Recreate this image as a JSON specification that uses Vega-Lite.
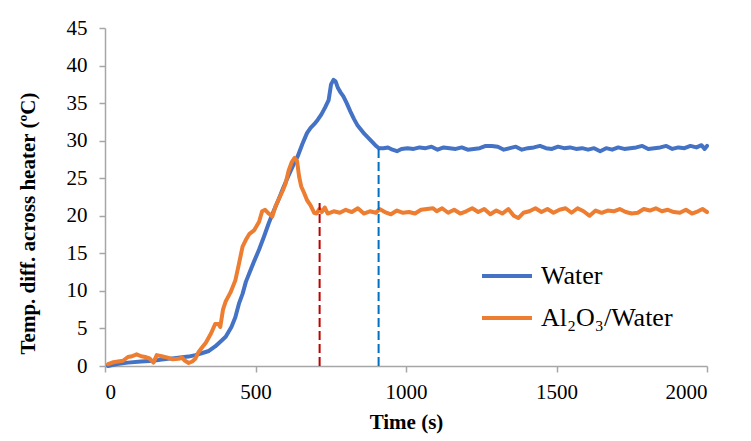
{
  "$schema": "https://vega.github.io/schema/vega-lite/v6.json",
  "width": 602,
  "height": 338,
  "autosize": {"type": "none"},
  "padding": {"left": 105, "top": 28, "right": 44, "bottom": 75},
  "background": "white",
  "config": {
    "view": {"stroke": null},
    "font": "Liberation Serif, Times New Roman, serif",
    "axis": {
      "grid": false,
      "domainColor": "#a6a6a6",
      "domainWidth": 1.5,
      "tickColor": "#a6a6a6",
      "tickWidth": 1.5,
      "tickSize": 6,
      "labelFont": "Liberation Serif, Times New Roman, serif",
      "labelFontSize": 21,
      "labelColor": "#000000",
      "labelOverlap": false,
      "titleFont": "Liberation Serif, Times New Roman, serif",
      "titleFontSize": 21,
      "titleFontWeight": "bold",
      "titleColor": "#000000"
    },
    "legend": {
      "labelFont": "Liberation Serif, Times New Roman, serif"
    }
  },
  "encoding": {
    "x": {
      "field": "t", "type": "quantitative",
      "scale": {"domain": [0, 2000], "nice": false},
      "axis": {"values": [0, 500, 1000, 1500, 2000], "format": "d", "title": "Time (s)", "labelPadding": 9, "titlePadding": 9, "labelOverlap": false}
    },
    "y": {
      "field": "v", "type": "quantitative",
      "scale": {"domain": [0, 45], "nice": false},
      "axis": {"values": [0, 5, 10, 15, 20, 25, 30, 35, 40, 45], "format": "d", "labelOverlap": false, "labelBound": false, "labelFlush": false, "title": "Temp. diff. across heater (ºC)", "labelPadding": 12, "titleX": -77, "titleY": 195, "titleBaseline": "middle", "titleAlign": "center", "titleAngle": -90}
    }
  },
  "layer": [
    {
      "data": {
        "values": [
          {"t": 10, "v": 0.0, "s": "Water"},
          {"t": 40, "v": 0.25, "s": "Water"},
          {"t": 76, "v": 0.45, "s": "Water"},
          {"t": 120, "v": 0.6, "s": "Water"},
          {"t": 160, "v": 0.7, "s": "Water"},
          {"t": 188, "v": 0.85, "s": "Water"},
          {"t": 230, "v": 1.05, "s": "Water"},
          {"t": 277, "v": 1.25, "s": "Water"},
          {"t": 300, "v": 1.45, "s": "Water"},
          {"t": 321, "v": 1.7, "s": "Water"},
          {"t": 345, "v": 2.0, "s": "Water"},
          {"t": 366, "v": 2.6, "s": "Water"},
          {"t": 385, "v": 3.3, "s": "Water"},
          {"t": 401, "v": 3.9, "s": "Water"},
          {"t": 420, "v": 5.2, "s": "Water"},
          {"t": 433, "v": 6.5, "s": "Water"},
          {"t": 445, "v": 8.3, "s": "Water"},
          {"t": 457, "v": 9.6, "s": "Water"},
          {"t": 468, "v": 11.2, "s": "Water"},
          {"t": 480, "v": 12.4, "s": "Water"},
          {"t": 496, "v": 14.0, "s": "Water"},
          {"t": 512, "v": 15.5, "s": "Water"},
          {"t": 528, "v": 17.2, "s": "Water"},
          {"t": 544, "v": 19.0, "s": "Water"},
          {"t": 560, "v": 20.6, "s": "Water"},
          {"t": 576, "v": 22.1, "s": "Water"},
          {"t": 592, "v": 23.7, "s": "Water"},
          {"t": 608, "v": 25.2, "s": "Water"},
          {"t": 624, "v": 26.6, "s": "Water"},
          {"t": 640, "v": 27.9, "s": "Water"},
          {"t": 656, "v": 29.6, "s": "Water"},
          {"t": 671, "v": 31.0, "s": "Water"},
          {"t": 683, "v": 31.7, "s": "Water"},
          {"t": 695, "v": 32.2, "s": "Water"},
          {"t": 707, "v": 32.8, "s": "Water"},
          {"t": 719, "v": 33.5, "s": "Water"},
          {"t": 731, "v": 34.4, "s": "Water"},
          {"t": 743, "v": 35.4, "s": "Water"},
          {"t": 751, "v": 37.5, "s": "Water"},
          {"t": 759, "v": 38.1, "s": "Water"},
          {"t": 766, "v": 37.9, "s": "Water"},
          {"t": 774, "v": 37.0, "s": "Water"},
          {"t": 783, "v": 36.4, "s": "Water"},
          {"t": 792, "v": 35.9, "s": "Water"},
          {"t": 803, "v": 35.0, "s": "Water"},
          {"t": 815, "v": 33.9, "s": "Water"},
          {"t": 827, "v": 32.9, "s": "Water"},
          {"t": 838, "v": 32.1, "s": "Water"},
          {"t": 850, "v": 31.5, "s": "Water"},
          {"t": 862, "v": 30.9, "s": "Water"},
          {"t": 874, "v": 30.4, "s": "Water"},
          {"t": 886, "v": 29.9, "s": "Water"},
          {"t": 898, "v": 29.4, "s": "Water"},
          {"t": 910, "v": 29.0, "s": "Water"},
          {"t": 925, "v": 29.0, "s": "Water"},
          {"t": 940, "v": 29.1, "s": "Water"},
          {"t": 955, "v": 28.8, "s": "Water"},
          {"t": 970, "v": 28.6, "s": "Water"},
          {"t": 985, "v": 28.9, "s": "Water"},
          {"t": 1005, "v": 29.0, "s": "Water"},
          {"t": 1025, "v": 28.9, "s": "Water"},
          {"t": 1045, "v": 29.1, "s": "Water"},
          {"t": 1065, "v": 29.0, "s": "Water"},
          {"t": 1085, "v": 29.2, "s": "Water"},
          {"t": 1105, "v": 28.8, "s": "Water"},
          {"t": 1125, "v": 29.1, "s": "Water"},
          {"t": 1145, "v": 29.0, "s": "Water"},
          {"t": 1165, "v": 28.9, "s": "Water"},
          {"t": 1185, "v": 29.1, "s": "Water"},
          {"t": 1205, "v": 28.8, "s": "Water"},
          {"t": 1225, "v": 28.9, "s": "Water"},
          {"t": 1245, "v": 29.0, "s": "Water"},
          {"t": 1265, "v": 29.3, "s": "Water"},
          {"t": 1285, "v": 29.3, "s": "Water"},
          {"t": 1305, "v": 29.2, "s": "Water"},
          {"t": 1325, "v": 28.8, "s": "Water"},
          {"t": 1345, "v": 29.0, "s": "Water"},
          {"t": 1365, "v": 29.2, "s": "Water"},
          {"t": 1385, "v": 28.8, "s": "Water"},
          {"t": 1405, "v": 29.0, "s": "Water"},
          {"t": 1425, "v": 29.1, "s": "Water"},
          {"t": 1445, "v": 29.3, "s": "Water"},
          {"t": 1465, "v": 29.0, "s": "Water"},
          {"t": 1485, "v": 28.9, "s": "Water"},
          {"t": 1505, "v": 29.2, "s": "Water"},
          {"t": 1525, "v": 29.0, "s": "Water"},
          {"t": 1545, "v": 29.1, "s": "Water"},
          {"t": 1565, "v": 28.9, "s": "Water"},
          {"t": 1585, "v": 29.0, "s": "Water"},
          {"t": 1605, "v": 28.8, "s": "Water"},
          {"t": 1625, "v": 29.0, "s": "Water"},
          {"t": 1645, "v": 28.6, "s": "Water"},
          {"t": 1665, "v": 29.0, "s": "Water"},
          {"t": 1685, "v": 28.8, "s": "Water"},
          {"t": 1705, "v": 29.1, "s": "Water"},
          {"t": 1725, "v": 28.9, "s": "Water"},
          {"t": 1745, "v": 29.0, "s": "Water"},
          {"t": 1765, "v": 29.1, "s": "Water"},
          {"t": 1785, "v": 29.3, "s": "Water"},
          {"t": 1805, "v": 28.9, "s": "Water"},
          {"t": 1825, "v": 29.0, "s": "Water"},
          {"t": 1845, "v": 29.1, "s": "Water"},
          {"t": 1865, "v": 29.3, "s": "Water"},
          {"t": 1885, "v": 28.9, "s": "Water"},
          {"t": 1905, "v": 29.1, "s": "Water"},
          {"t": 1925, "v": 29.0, "s": "Water"},
          {"t": 1945, "v": 29.3, "s": "Water"},
          {"t": 1965, "v": 29.1, "s": "Water"},
          {"t": 1982, "v": 29.4, "s": "Water"},
          {"t": 1992, "v": 28.9, "s": "Water"},
          {"t": 2000, "v": 29.3, "s": "Water"},
          {"t": 10, "v": 0.25, "s": "Al₂O₃/Water"},
          {"t": 28, "v": 0.5, "s": "Al₂O₃/Water"},
          {"t": 43, "v": 0.6, "s": "Al₂O₃/Water"},
          {"t": 60, "v": 0.7, "s": "Al₂O₃/Water"},
          {"t": 76, "v": 1.2, "s": "Al₂O₃/Water"},
          {"t": 90, "v": 1.3, "s": "Al₂O₃/Water"},
          {"t": 105, "v": 1.55, "s": "Al₂O₃/Water"},
          {"t": 120, "v": 1.3, "s": "Al₂O₃/Water"},
          {"t": 133, "v": 1.2, "s": "Al₂O₃/Water"},
          {"t": 148, "v": 1.0, "s": "Al₂O₃/Water"},
          {"t": 161, "v": 0.45, "s": "Al₂O₃/Water"},
          {"t": 172, "v": 1.45, "s": "Al₂O₃/Water"},
          {"t": 188, "v": 1.3, "s": "Al₂O₃/Water"},
          {"t": 205, "v": 1.15, "s": "Al₂O₃/Water"},
          {"t": 225, "v": 0.9, "s": "Al₂O₃/Water"},
          {"t": 244, "v": 0.95, "s": "Al₂O₃/Water"},
          {"t": 256, "v": 1.1, "s": "Al₂O₃/Water"},
          {"t": 266, "v": 0.7, "s": "Al₂O₃/Water"},
          {"t": 278, "v": 0.4, "s": "Al₂O₃/Water"},
          {"t": 290, "v": 0.6, "s": "Al₂O₃/Water"},
          {"t": 300, "v": 0.95, "s": "Al₂O₃/Water"},
          {"t": 310, "v": 1.8, "s": "Al₂O₃/Water"},
          {"t": 321, "v": 2.4, "s": "Al₂O₃/Water"},
          {"t": 335, "v": 3.1, "s": "Al₂O₃/Water"},
          {"t": 353, "v": 4.4, "s": "Al₂O₃/Water"},
          {"t": 366, "v": 5.6, "s": "Al₂O₃/Water"},
          {"t": 377, "v": 5.6, "s": "Al₂O₃/Water"},
          {"t": 383, "v": 5.2, "s": "Al₂O₃/Water"},
          {"t": 392, "v": 7.5, "s": "Al₂O₃/Water"},
          {"t": 401, "v": 8.6, "s": "Al₂O₃/Water"},
          {"t": 417, "v": 9.8, "s": "Al₂O₃/Water"},
          {"t": 433, "v": 11.4, "s": "Al₂O₃/Water"},
          {"t": 445, "v": 13.6, "s": "Al₂O₃/Water"},
          {"t": 457, "v": 15.9, "s": "Al₂O₃/Water"},
          {"t": 468, "v": 16.8, "s": "Al₂O₃/Water"},
          {"t": 480, "v": 17.6, "s": "Al₂O₃/Water"},
          {"t": 496, "v": 18.1, "s": "Al₂O₃/Water"},
          {"t": 512, "v": 19.2, "s": "Al₂O₃/Water"},
          {"t": 522, "v": 20.6, "s": "Al₂O₃/Water"},
          {"t": 532, "v": 20.8, "s": "Al₂O₃/Water"},
          {"t": 544, "v": 20.3, "s": "Al₂O₃/Water"},
          {"t": 556, "v": 19.9, "s": "Al₂O₃/Water"},
          {"t": 566, "v": 21.2, "s": "Al₂O₃/Water"},
          {"t": 576, "v": 22.1, "s": "Al₂O₃/Water"},
          {"t": 590, "v": 23.3, "s": "Al₂O₃/Water"},
          {"t": 600, "v": 24.3, "s": "Al₂O₃/Water"},
          {"t": 610, "v": 26.0, "s": "Al₂O₃/Water"},
          {"t": 620, "v": 27.1, "s": "Al₂O₃/Water"},
          {"t": 630, "v": 27.7, "s": "Al₂O₃/Water"},
          {"t": 638, "v": 27.3, "s": "Al₂O₃/Water"},
          {"t": 645, "v": 25.2, "s": "Al₂O₃/Water"},
          {"t": 652, "v": 23.9, "s": "Al₂O₃/Water"},
          {"t": 662, "v": 23.0, "s": "Al₂O₃/Water"},
          {"t": 671, "v": 22.1, "s": "Al₂O₃/Water"},
          {"t": 683, "v": 21.4, "s": "Al₂O₃/Water"},
          {"t": 695, "v": 20.4, "s": "Al₂O₃/Water"},
          {"t": 703, "v": 20.3, "s": "Al₂O₃/Water"},
          {"t": 712, "v": 20.9, "s": "Al₂O₃/Water"},
          {"t": 720, "v": 20.5, "s": "Al₂O₃/Water"},
          {"t": 730, "v": 21.1, "s": "Al₂O₃/Water"},
          {"t": 740, "v": 20.3, "s": "Al₂O₃/Water"},
          {"t": 760, "v": 20.6, "s": "Al₂O₃/Water"},
          {"t": 780, "v": 20.4, "s": "Al₂O₃/Water"},
          {"t": 800, "v": 20.8, "s": "Al₂O₃/Water"},
          {"t": 820, "v": 20.5, "s": "Al₂O₃/Water"},
          {"t": 840, "v": 21.0, "s": "Al₂O₃/Water"},
          {"t": 860, "v": 20.3, "s": "Al₂O₃/Water"},
          {"t": 880, "v": 20.6, "s": "Al₂O₃/Water"},
          {"t": 900, "v": 20.4, "s": "Al₂O₃/Water"},
          {"t": 912, "v": 20.9, "s": "Al₂O₃/Water"},
          {"t": 930, "v": 20.5, "s": "Al₂O₃/Water"},
          {"t": 950, "v": 20.2, "s": "Al₂O₃/Water"},
          {"t": 970, "v": 20.7, "s": "Al₂O₃/Water"},
          {"t": 990, "v": 20.4, "s": "Al₂O₃/Water"},
          {"t": 1010, "v": 20.5, "s": "Al₂O₃/Water"},
          {"t": 1030, "v": 20.3, "s": "Al₂O₃/Water"},
          {"t": 1050, "v": 20.8, "s": "Al₂O₃/Water"},
          {"t": 1070, "v": 20.9, "s": "Al₂O₃/Water"},
          {"t": 1090, "v": 21.0, "s": "Al₂O₃/Water"},
          {"t": 1102, "v": 20.6, "s": "Al₂O₃/Water"},
          {"t": 1120, "v": 21.0, "s": "Al₂O₃/Water"},
          {"t": 1140, "v": 20.4, "s": "Al₂O₃/Water"},
          {"t": 1160, "v": 20.8, "s": "Al₂O₃/Water"},
          {"t": 1180, "v": 20.3, "s": "Al₂O₃/Water"},
          {"t": 1200, "v": 20.6, "s": "Al₂O₃/Water"},
          {"t": 1220, "v": 21.0, "s": "Al₂O₃/Water"},
          {"t": 1240, "v": 20.5, "s": "Al₂O₃/Water"},
          {"t": 1260, "v": 20.9, "s": "Al₂O₃/Water"},
          {"t": 1280, "v": 20.2, "s": "Al₂O₃/Water"},
          {"t": 1300, "v": 20.7, "s": "Al₂O₃/Water"},
          {"t": 1320, "v": 20.3, "s": "Al₂O₃/Water"},
          {"t": 1340, "v": 20.9, "s": "Al₂O₃/Water"},
          {"t": 1358, "v": 20.0, "s": "Al₂O₃/Water"},
          {"t": 1373, "v": 19.7, "s": "Al₂O₃/Water"},
          {"t": 1390, "v": 20.4, "s": "Al₂O₃/Water"},
          {"t": 1410, "v": 20.6, "s": "Al₂O₃/Water"},
          {"t": 1430, "v": 21.0, "s": "Al₂O₃/Water"},
          {"t": 1450, "v": 20.5, "s": "Al₂O₃/Water"},
          {"t": 1470, "v": 20.9, "s": "Al₂O₃/Water"},
          {"t": 1490, "v": 20.4, "s": "Al₂O₃/Water"},
          {"t": 1510, "v": 20.8, "s": "Al₂O₃/Water"},
          {"t": 1530, "v": 21.0, "s": "Al₂O₃/Water"},
          {"t": 1550, "v": 20.4, "s": "Al₂O₃/Water"},
          {"t": 1570, "v": 21.0, "s": "Al₂O₃/Water"},
          {"t": 1590, "v": 20.6, "s": "Al₂O₃/Water"},
          {"t": 1610, "v": 20.0, "s": "Al₂O₃/Water"},
          {"t": 1630, "v": 20.7, "s": "Al₂O₃/Water"},
          {"t": 1650, "v": 20.4, "s": "Al₂O₃/Water"},
          {"t": 1670, "v": 20.7, "s": "Al₂O₃/Water"},
          {"t": 1690, "v": 20.6, "s": "Al₂O₃/Water"},
          {"t": 1710, "v": 20.9, "s": "Al₂O₃/Water"},
          {"t": 1730, "v": 20.5, "s": "Al₂O₃/Water"},
          {"t": 1750, "v": 20.3, "s": "Al₂O₃/Water"},
          {"t": 1770, "v": 20.4, "s": "Al₂O₃/Water"},
          {"t": 1790, "v": 20.9, "s": "Al₂O₃/Water"},
          {"t": 1810, "v": 20.7, "s": "Al₂O₃/Water"},
          {"t": 1830, "v": 21.0, "s": "Al₂O₃/Water"},
          {"t": 1850, "v": 20.6, "s": "Al₂O₃/Water"},
          {"t": 1870, "v": 20.8, "s": "Al₂O₃/Water"},
          {"t": 1890, "v": 20.5, "s": "Al₂O₃/Water"},
          {"t": 1910, "v": 20.4, "s": "Al₂O₃/Water"},
          {"t": 1930, "v": 20.8, "s": "Al₂O₃/Water"},
          {"t": 1950, "v": 20.3, "s": "Al₂O₃/Water"},
          {"t": 1970, "v": 20.6, "s": "Al₂O₃/Water"},
          {"t": 1985, "v": 20.9, "s": "Al₂O₃/Water"},
          {"t": 2000, "v": 20.5, "s": "Al₂O₃/Water"}
        ]
      },
      "mark": {"type": "line", "strokeWidth": 4, "strokeJoin": "round", "strokeCap": "round"},
      "encoding": {
        "color": {
          "field": "s", "type": "nominal",
          "scale": {"domain": ["Water", "Al₂O₃/Water"], "range": ["#4472C4", "#ED7D31"]},
          "legend": {
            "title": null,
            "orient": "none",
            "legendX": 375,
            "legendY": 221,
            "padding": 0,
            "symbolType": "stroke",
            "symbolSize": 2500,
            "symbolStrokeWidth": 4,
            "labelFont": "Liberation Serif, Times New Roman, serif",
            "labelFontSize": 26,
            "labelColor": "#000000",
            "labelOffset": 7,
            "rowPadding": 2,
            "labelLimit": 300
          }
        }
      }
    },
    {
      "data": {"values": [{"t": 713, "v": 0, "v2": 21.7}]},
      "mark": {"type": "rule", "color": "#C00000", "strokeWidth": 2, "strokeDash": [9, 4]},
      "encoding": {
        "y2": {"field": "v2"}
      }
    },
    {
      "data": {"values": [{"t": 909, "v": 0, "v2": 29.0}]},
      "mark": {"type": "rule", "color": "#0070C0", "strokeWidth": 2, "strokeDash": [9, 4]},
      "encoding": {
        "y2": {"field": "v2"}
      }
    }
  ]
}
